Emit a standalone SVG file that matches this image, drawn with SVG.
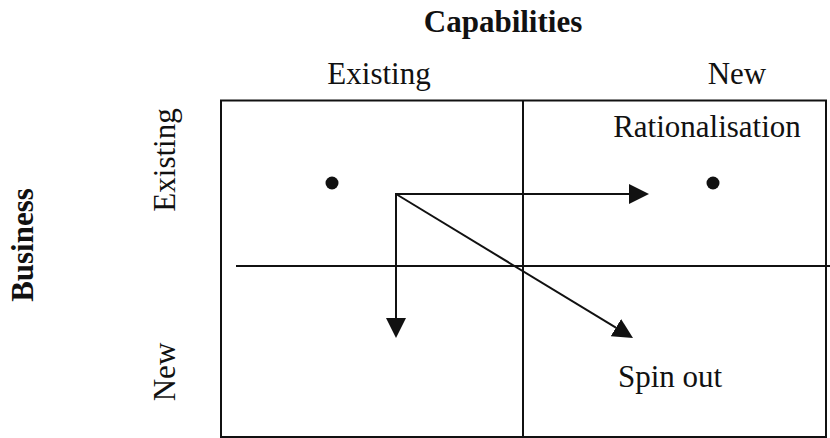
<svg xmlns="http://www.w3.org/2000/svg" width="830" height="438" viewBox="0 0 830 438">
  <style>
    .t { font-family: "Liberation Serif", "Times New Roman", serif; font-size: 31px; fill: #111; }
    .b { font-weight: bold; }
    .ln { stroke: #111; stroke-width: 2; fill: none; }
    .dot { fill: #111; }
  </style>
  <defs>
    <marker id="ah" markerUnits="userSpaceOnUse" markerWidth="20" markerHeight="20" refX="0" refY="10" orient="auto">
      <path d="M0,0 L20,10 L0,20 z" fill="#111"/>
    </marker>
  </defs>
  <rect width="830" height="438" fill="#fff"/>

  <g id="labels">
    <text class="t b" x="503" y="32" text-anchor="middle">Capabilities</text>
    <text class="t" x="379" y="84" text-anchor="middle">Existing</text>
    <text class="t" x="737" y="84" text-anchor="middle">New</text>
    <text class="t b" transform="translate(33,245) rotate(-90)" text-anchor="middle">Business</text>
    <text class="t" transform="translate(175,160) rotate(-90)" text-anchor="middle">Existing</text>
    <text class="t" transform="translate(175,372) rotate(-90)" text-anchor="middle">New</text>
  </g>

  <g id="grid">
    <rect class="ln" x="221" y="100.5" width="605" height="336.5"/>
    <line class="ln" x1="523" y1="100" x2="523" y2="437"/>
    <line class="ln" x1="236" y1="266" x2="830" y2="266"/>
  </g>

  <g id="node-existing">
    <circle class="dot" cx="332" cy="183" r="6.5"/>
  </g>
  <g id="node-rationalisation">
    <circle class="dot" cx="713" cy="183" r="6.5"/>
    <text class="t" x="707" y="137" text-anchor="middle">Rationalisation</text>
  </g>
  <g id="node-spinout">
    <text class="t" x="670" y="387" text-anchor="middle">Spin out</text>
  </g>

  <g id="connectors">
    <line class="ln" x1="396" y1="194" x2="629" y2="194" marker-end="url(#ah)"/>
    <line class="ln" x1="396" y1="193" x2="396" y2="318" marker-end="url(#ah)"/>
    <line class="ln" x1="396" y1="194" x2="615.9" y2="327.6" marker-end="url(#ah)"/>
  </g>
</svg>
